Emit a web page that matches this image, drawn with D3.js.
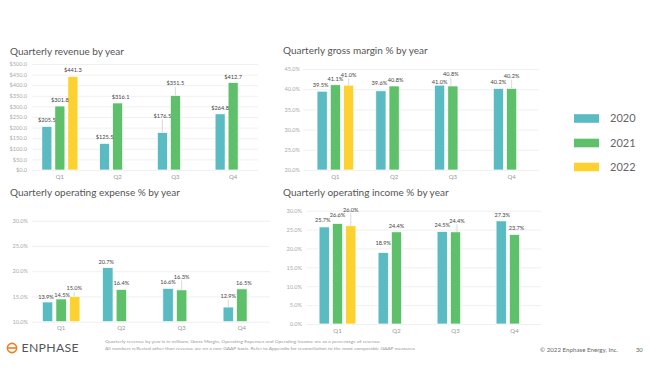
<!DOCTYPE html>
<html><head><meta charset="utf-8">
<script src="https://cdn.jsdelivr.net/npm/d3@7"></script>
<style>
body{margin:0;background:#fff;}
svg{display:block;font-family:Lato,"Open Sans",sans-serif;}
</style>
</head><body>
<svg id="chart" width="650" height="390"></svg>
<script>
// ---------------- data ----------------
const quarters = ["Q1", "Q2", "Q3", "Q4"];
const years = ["2020", "2021", "2022"];

const revenue2020 = [205.5, 125.5, 176.5, 264.8];
const revenue2021 = [301.8, 316.1, 351.5, 412.7];
const revenue2022 = [441.3, null, null, null];

const grossMargin2020 = [39.5, 39.6, 41.0, 40.2];
const grossMargin2021 = [41.1, 40.8, 40.8, 40.2];
const grossMargin2022 = [41.0, null, null, null];

const opex2020 = [13.9, 20.7, 16.6, 12.9];
const opex2021 = [14.5, 16.4, 16.3, 16.5];
const opex2022 = [15.0, null, null, null];

const opIncome2020 = [25.7, 18.9, 24.5, 27.3];
const opIncome2021 = [26.6, 24.4, 24.4, 23.7];
const opIncome2022 = [26.0, null, null, null];

const revenueTicks = [0, 50, 100, 150, 200, 250, 300, 350, 400, 450, 500];
const grossMarginTicks = [20, 25, 30, 35, 40, 45];
const opexTicks = [10, 15, 20, 25, 30];
const opIncomeTicks = [0, 5, 10, 15, 20, 25, 30];

// ---------------- styling / layout ----------------
const colors = {"2020": "#5bbbc3", "2021": "#5ec06b", "2022": "#fdd12f"};

// label nudges [dx, dy, leaderLine]
const labelNudges = {
  "rev-Q2-2021": [3, 0], "rev-Q3-2020": [0, -11, 1], "rev-Q3-2021": [0, -6, 1],
  "gm-Q1-2020": [-1.5, 0], "gm-Q1-2022": [0, -4, 1], "gm-Q2-2020": [-1.5, -1.5], "gm-Q2-2021": [1.5, 0],
  "gm-Q3-2020": [0, 3], "gm-Q3-2021": [-2, -6, 1], "gm-Q4-2021": [0, -6, 1],
  "ox-Q1-2020": [-1.5, 1], "ox-Q1-2021": [1, 2], "ox-Q1-2022": [-0.5, -2, 1],
  "ox-Q2-2020": [-1.5, 0], "ox-Q3-2021": [0, -7, 1], "ox-Q4-2020": [0, -5, 1], "ox-Q4-2021": [2, 0],
  "oi-Q1-2020": [-1.5, -1], "oi-Q1-2021": [0, -3], "oi-Q1-2022": [0, -10, 1],
  "oi-Q2-2020": [0, -4], "oi-Q3-2021": [1.5, -5, 1], "oi-Q4-2020": [1, 0], "oi-Q4-2021": [2, 0]
};

const money = d => "$" + d3.format(".1f")(d);
const pct = d => d3.format(".1f")(d) + "%";

const panels = [
  {key: "rev", title: "Quarterly revenue by year", tx: 10, ty: 55,
   xr: [31, 262], gx: [32, 258], yr: [170, 64], domain: [0, 500], ticks: revenueTicks,
   fmt: money, axisX: 27, series: [revenue2020, revenue2021, revenue2022]},
  {key: "gm", title: "Quarterly gross margin % by year", tx: 283, ty: 54,
   xr: [306, 541], gx: [303, 539], yr: [170, 69], domain: [20, 45], ticks: grossMarginTicks,
   fmt: pct, axisX: 300, series: [grossMargin2020, grossMargin2021, grossMargin2022]},
  {key: "ox", title: "Quarterly operating expense % by year", tx: 10, ty: 196,
   xr: [31, 272], gx: [32, 270], yr: [321.7, 220.7], domain: [10, 30], ticks: opexTicks,
   fmt: pct, axisX: 28, series: [opex2020, opex2021, opex2022]},
  {key: "oi", title: "Quarterly operating income % by year", tx: 283, ty: 196,
   xr: [308, 544], gx: [307, 541], yr: [324, 210.7], domain: [0, 30], ticks: opIncomeTicks,
   fmt: pct, axisX: 302, series: [opIncome2020, opIncome2021, opIncome2022]}
];

const svg = d3.select("#chart");

panels.forEach(p => {
  const g = svg.append("g");
  const x0 = d3.scaleBand().domain(quarters).range(p.xr).paddingInner(0.376).paddingOuter(0.188);
  const x1 = d3.scaleBand().domain(years).range([0, x0.bandwidth()]).paddingInner(0.23);
  const y = d3.scaleLinear().domain(p.domain).range(p.yr);

  // title
  g.append("text").attr("x", p.tx).attr("y", p.ty)
    .attr("font-size", 10).attr("fill", "#555").text(p.title);

  // gridlines
  const grid = g.append("g").attr("transform", `translate(${p.gx[0]},0)`)
    .call(d3.axisRight(y).tickValues(p.ticks).tickSize(p.gx[1] - p.gx[0]).tickFormat(""));
  grid.select(".domain").remove();
  grid.selectAll("line").attr("stroke", "#ececec").attr("stroke-width", 0.8);

  // y tick labels
  const ya = g.append("g").attr("transform", `translate(${p.axisX},0)`)
    .call(d3.axisLeft(y).tickValues(p.ticks).tickSize(0).tickPadding(0).tickFormat(p.fmt));
  ya.select(".domain").remove();
  ya.selectAll("text").attr("font-size", 5.6).attr("fill", "#aaa").attr("font-family", "Lato");

  // x tick labels
  const xa = g.append("g").attr("transform", `translate(0,${p.yr[0]})`)
    .call(d3.axisBottom(x0).tickSize(0).tickPadding(4.5));
  xa.select(".domain").remove();
  xa.selectAll("text").attr("font-size", 6).attr("fill", "#999").attr("font-family", "Lato");

  // bars
  const rows = [];
  quarters.forEach((q, qi) => years.forEach((yr, yi) => {
    const v = p.series[yi][qi];
    if (v !== null && v !== undefined) rows.push({q, yr, v});
  }));

  g.append("g").selectAll("rect").data(rows).join("rect")
    .attr("x", d => x0(d.q) + x1(d.yr))
    .attr("width", x1.bandwidth())
    .attr("y", d => y(d.v))
    .attr("height", d => y(p.domain[0]) - y(d.v))
    .attr("fill", d => colors[d.yr])
    .attr("stroke", "#fff").attr("stroke-width", 0.7);

  // leader lines and value labels
  rows.forEach(d => {
    const n = labelNudges[`${p.key}-${d.q}-${d.yr}`] || [0, 0];
    const cx = x0(d.q) + x1(d.yr) + x1.bandwidth() / 2 + n[0];
    const base = y(d.v) - 4 + n[1];
    if (n[2]) {
      g.append("line").attr("x1", cx).attr("x2", cx)
        .attr("y1", base + 1.5).attr("y2", y(d.v))
        .attr("stroke", "#c8c8c8").attr("stroke-width", 0.7);
    }
    g.append("text").attr("x", cx).attr("y", base)
      .attr("text-anchor", "middle").attr("font-size", 5.6).attr("fill", "#444")
      .text(p.fmt(d.v));
  });
});

// legend
const legend = svg.append("g");
years.forEach((yr, i) => {
  const ly = [118.5, 143, 167][i];
  legend.append("rect").attr("x", 574).attr("y", ly - 4.3).attr("width", 25).attr("height", 8.6)
    .attr("fill", colors[yr]);
  legend.append("text").attr("x", 610).attr("y", ly).attr("dy", "0.35em")
    .attr("font-size", 11).attr("fill", "#666").text(yr);
});

// footer: logo
const logo = svg.append("g");
logo.append("circle").attr("cx", 12).attr("cy", 348).attr("r", 4.6)
  .attr("fill", "none").attr("stroke", "#f47b20").attr("stroke-width", 1.6);
logo.append("line").attr("x1", 7.4).attr("x2", 16.6).attr("y1", 348).attr("y2", 348)
  .attr("stroke", "#f47b20").attr("stroke-width", 1.6);
logo.append("text").attr("x", 21.5).attr("y", 352.3).attr("font-size", 12.3)
  .attr("fill", "#555").attr("font-family", "Lato").attr("letter-spacing", 0.3).text("ENPHASE");

svg.append("text").attr("x", 105).attr("y", 342.5).attr("font-size", 4.6).attr("fill", "#999")
  .attr("textLength", 275).attr("lengthAdjust", "spacingAndGlyphs")
  .text("Quarterly revenue by year is in millions; Gross Margin, Operating Expenses and Operating Income are as a percentage of revenue");
svg.append("text").attr("x", 105).attr("y", 350).attr("font-size", 4.6).attr("fill", "#999")
  .attr("textLength", 310).attr("lengthAdjust", "spacingAndGlyphs")
  .text("All numbers reflected other than revenue are on a non-GAAP basis. Refer to Appendix for reconciliation to the most comparable GAAP measures");
svg.append("text").attr("x", 540).attr("y", 352).attr("font-size", 5.8).attr("fill", "#666")
  .attr("textLength", 78).attr("lengthAdjust", "spacingAndGlyphs")
  .text("© 2022 Enphase Energy, Inc.");
svg.append("text").attr("x", 636).attr("y", 352).attr("font-size", 5.8).attr("fill", "#666").text("30");
</script>
</body></html>
